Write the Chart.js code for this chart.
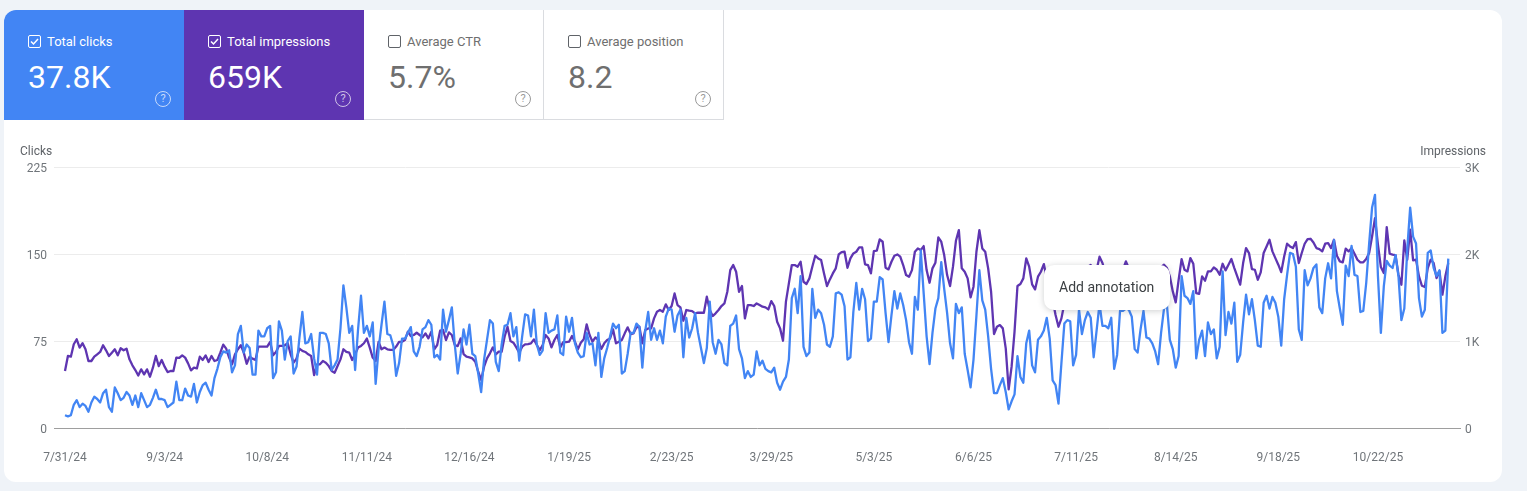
<!DOCTYPE html>
<html lang="en">
    <head>
        <meta charset="UTF-8">
        <title>Search performance</title>
        <script src="https://cdn.jsdelivr.net/npm/chart.js"></script>
        <style>
            body, html {
                margin: 0;
                padding: 0;
                width: 1527px;
                height: 491px;
                overflow: hidden;
                background: #eff3f8;
                font-family: Roboto, sans-serif;
            }
            #card {
                position: absolute;
                left: 4px;
                top: 10px;
                width: 1498px;
                height: 472px;
                background: #fff;
                border-radius: 12px;
                overflow: hidden;
            }
            .tile {
                position: absolute;
                top: 0;
                width: 180px;
                height: 110px;
                box-sizing: border-box;
            }
            .tile.off {
                border-right: 1px solid #dadce0;
                border-bottom: 1px solid #dadce0;
                color: #6f6f6f;
            }
            .tile.on {
                color: #fff;
            }
            .tile .name {
                position: absolute;
                left: 43px;
                top: 24px;
                font-size: 13px;
                line-height: 16px;
            }
            .tile .num {
                position: absolute;
                left: 24px;
                top: 48px;
                font-size: 32px;
                line-height: 38px;
            }
            .tile svg {
                position: absolute;
                left: 24px;
                top: 25px;
            }
            .tile .help {
                position: absolute;
                left: 151px;
                top: 81px;
                width: 14px;
                height: 14px;
                border: 1.5px solid currentColor;
                border-radius: 50%;
                font-size: 11px;
                line-height: 14px;
                text-align: center;
                opacity: .7;
            }
            #chartBox {
                position: absolute;
                left: 0;
                top: 0;
            }
            .axisTitle {
                position: absolute;
                top: 144px;
                font-size: 12px;
                line-height: 14px;
                color: #5f6368;
            }
            #note {
                position: absolute;
                left: 1044px;
                top: 265px;
                width: 126px;
                height: 45px;
                background: #fff;
                border-radius: 10px;
                box-shadow: 0 1px 6px rgba(60,64,67,.25);
                font-size: 14px;
                line-height: 45px;
                color: #3c4043;
                text-indent: 15px;
            }
        </style>
    </head>
    <body>
        <div id="card">
            <div class="tile on" style="left:0;background:#4285f4">
                <svg width="13" height="13"><rect x=".5" y=".5" width="12" height="12" rx="1.5" fill="none" stroke="#fff"/><path d="M3 6.5l2.5 2.5 4.5-5" fill="none" stroke="#fff" stroke-width="1.5"/></svg>
                <div class="name">Total clicks</div><div class="num">37.8K</div><div class="help">?</div>
            </div>
            <div class="tile on" style="left:180px;background:#5e35b1">
                <svg width="13" height="13"><rect x=".5" y=".5" width="12" height="12" rx="1.5" fill="none" stroke="#fff"/><path d="M3 6.5l2.5 2.5 4.5-5" fill="none" stroke="#fff" stroke-width="1.5"/></svg>
                <div class="name">Total impressions</div><div class="num">659K</div><div class="help">?</div>
            </div>
            <div class="tile off" style="left:360px">
                <svg width="13" height="13"><rect x=".5" y=".5" width="12" height="12" rx="1.5" fill="none" stroke="#5f6368"/></svg>
                <div class="name">Average CTR</div><div class="num">5.7%</div><div class="help">?</div>
            </div>
            <div class="tile off" style="left:540px">
                <svg width="13" height="13"><rect x=".5" y=".5" width="12" height="12" rx="1.5" fill="none" stroke="#5f6368"/></svg>
                <div class="name">Average position</div><div class="num">8.2</div><div class="help">?</div>
            </div>
        </div>
        <canvas id="chartBox" width="1527" height="491"></canvas>
        <div class="axisTitle" style="left:20px">Clicks</div>
        <div class="axisTitle" style="right:41px">Impressions</div>
        <div id="note">Add annotation</div>

        <script>
            const tickDays = [0, 34, 69, 103, 138, 172, 207, 241, 276, 310, 345, 379, 414, 448];
            const tickLabels = ['7/31/24', '9/3/24', '10/8/24', '11/11/24', '12/16/24', '1/19/25', '2/23/25', '3/29/25', '5/3/25', '6/6/25', '7/11/25', '8/14/25', '9/18/25', '10/22/25'];
            const clickTicks = [0, 75, 150, 225];
            const impressionTicks = { 0: '0', 1000: '1K', 2000: '2K', 3000: '3K' };

            // one value per day
            const clicks = [
                11,10,11,20,24,18,21,19,14,22,27,25,22,30,33,18,14,35,30,24,26,31,28,20,28,18,30,24,18,20,
                26,33,25,25,24,18,20,22,40,24,24,34,28,27,38,22,31,37,39,33,28,43,51,61,66,65,67,48,54,81,
                88,65,72,69,46,46,84,79,79,86,88,43,48,92,84,59,75,79,47,53,78,100,73,74,81,60,46,82,82,81,
                73,50,54,59,86,123,104,82,88,50,85,114,82,88,79,91,38,68,89,109,81,80,71,45,56,
                77,77,82,87,66,62,70,85,87,93,89,61,63,59,102,83,93,104,72,47,64,85,72,89,64,62,47,31,59,76,
                93,90,57,49,72,88,89,99,79,87,58,79,98,97,79,102,72,63,67,99,82,84,85,97,65,63,96,83,95,73,
                65,61,62,82,72,73,54,82,44,60,69,79,90,86,89,47,49,64,82,82,90,87,52,84,100,76,86,76,84,73,
                96,103,102,83,97,102,61,95,78,86,99,82,69,56,69,109,74,64,76,72,56,54,88,90,97,68,60,43,49,44,
                46,66,54,58,51,49,48,52,39,33,40,44,59,112,120,99,131,70,62,65,120,95,102,99,89,72,70,79,116,117,
                115,105,59,61,100,125,102,120,111,75,77,109,109,130,128,99,74,97,118,103,116,106,93,74,64,113,102,153,116,79,
                55,82,103,112,143,120,99,73,60,107,99,104,64,50,35,59,97,136,110,102,79,51,30,30,37,43,31,16,23,29,
                62,44,39,73,84,54,48,76,79,84,95,77,41,37,21,56,90,93,92,54,63,102,81,93,100,95,61,84,107,
                88,88,86,95,51,63,101,101,103,102,96,68,65,85,101,78,77,73,66,55,82,103,106,76,68,52,62,131,114,112,107,
                118,60,76,84,62,91,81,85,60,70,135,80,100,90,108,57,63,91,115,98,111,93,71,70,108,114,103,113,108,96,
                71,111,132,151,150,139,85,76,136,123,129,138,141,104,99,129,142,129,162,118,103,89,140,131,157,132,131,100,101,125,
                159,190,201,131,82,122,144,140,138,149,131,93,103,154,190,165,159,112,96,102,151,153,138,131,136,82,84,146
            ];
            const impressions = [
                655,828,820,963,1020,924,974,905,770,770,820,847,874,951,893,828,866,905,835,916,893,912,789,720,666,604,674,616,674,589,
                693,828,712,782,705,643,655,655,809,805,835,809,743,662,693,685,820,782,835,758,828,770,782,866,959,912,809,732,847,905,
                951,866,739,820,797,782,936,936,936,936,989,835,874,943,943,951,974,847,751,797,912,886,874,847,828,608,732,732,770,751,
                712,655,635,712,789,905,874,866,782,847,924,943,974,1028,924,809,770,989,905,924,905,897,897,936,989,
                992,1011,1107,1057,1069,1095,1069,1042,1088,1030,1107,904,954,1118,1126,1011,1099,1069,954,942,1030,850,820,812,800,762,647,552,705,800,
                858,927,846,877,877,1049,1164,1000,980,927,866,935,961,965,973,1019,954,896,954,1069,1030,927,1011,1069,927,988,988,992,1057,992,
                904,980,1019,1191,1069,992,1042,1011,908,973,1011,1030,1134,973,992,1011,1088,1157,1080,1088,1157,1164,973,1126,1145,1145,1260,1337,1356,1337,
                1421,1356,1402,1547,1413,1386,1233,1356,1348,1344,1318,1325,1325,1325,1509,1356,1287,1318,1356,1402,1432,1566,1815,1873,1796,1566,1632,1260,1413,1413,
                1402,1432,1413,1394,1386,1363,1459,1402,1222,1145,1003,1452,1662,1873,1873,1854,1911,1681,1655,1720,1854,1980,1949,1930,1777,1632,1708,1777,1835,1995,
                2022,2026,1842,1949,2007,2026,2076,2076,1881,1873,1777,2034,2038,2168,2141,1842,1823,1911,1980,1995,1969,1873,1758,1739,1815,2026,2064,2045,2091,1815,
                1670,1835,1900,2191,2141,1988,1758,1632,1854,2152,2275,1835,1796,1720,1501,1624,2026,2275,2064,2026,1835,1566,1080,1164,1183,1145,915,444,705,1107,
                1632,1655,1720,1949,1854,1651,1593,1739,1796,1884,1720,1624,1471,1298,1164,1260,1432,1566,1662,1624,1700,1739,1815,1681,1854,1873,1720,1815,1969,
                1896,1781,1743,1800,1838,1762,1704,1819,1915,1838,1781,1743,1704,1762,1800,1743,1704,1743,1781,1800,1850,1877,1838,1743,1570,1444,1704,
                1942,1819,1800,1953,1888,1551,1543,1743,1693,1800,1800,1846,1819,1762,1888,1812,1877,1942,1838,1743,1647,1896,2068,2011,1827,1819,1704,1789,2011,2087,
                2164,2030,1953,1877,1792,1972,2118,2087,2068,2137,1896,2011,2118,2172,2175,2133,2068,2057,2030,2118,2126,2068,2164,1980,1915,1904,2061,2030,2068,2003,
                1934,1904,1904,1942,2011,2202,2413,2107,1850,1781,2309,2003,1992,1988,1762,1647,2156,1934,2279,1926,1934,1743,1635,1620,1838,1934,1896,1724,1800,1532,1743,1896
            ];

            const tickFont = { family: 'Roboto', size: 12 };

            new Chart(document.getElementById('chartBox'), {
                type: 'line',
                data: {
                    datasets: [
                        {
                            label: 'Clicks',
                            data: clicks.map((v, i) => ({ x: i, y: v })),
                            yAxisID: 'y',
                            borderColor: '#4285f4',
                            borderWidth: 2.3,
                            borderJoinStyle: 'round',
                            pointRadius: 0,
                            tension: 0
                        },
                        {
                            label: 'Impressions',
                            data: impressions.map((v, i) => ({ x: i, y: v })),
                            yAxisID: 'y2',
                            borderColor: '#5e35b1',
                            borderWidth: 2.3,
                            borderJoinStyle: 'round',
                            pointRadius: 0,
                            tension: 0
                        }
                    ]
                },
                options: {
                    responsive: false,
                    animation: false,
                    layout: { padding: { top: 167 } },
                    plugins: { legend: { display: false }, tooltip: { enabled: false } },
                    scales: {
                        x: {
                            type: 'linear',
                            min: -3.75,
                            max: 476,
                            grid: { display: false },
                            border: { color: '#9e9e9e' },
                            afterBuildTicks: axis => { axis.ticks = tickDays.map(v => ({ value: v })); },
                            afterFit: axis => { axis.height = 63; },
                            ticks: {
                                autoSkip: false,
                                maxRotation: 0,
                                padding: 15,
                                color: '#70757a',
                                font: tickFont,
                                callback: v => tickLabels[tickDays.indexOf(v)]
                            }
                        },
                        y: {
                            position: 'left',
                            min: 0,
                            max: 225,
                            grid: { color: '#ececec', drawTicks: false },
                            border: { display: false },
                            afterBuildTicks: axis => { axis.ticks = clickTicks.map(v => ({ value: v })); },
                            afterFit: axis => { axis.width = 54; },
                            ticks: { padding: 7, labelOffset: 2, color: '#70757a', font: tickFont }
                        },
                        y2: {
                            position: 'right',
                            min: 0,
                            max: 3000,
                            grid: { display: false, drawTicks: false },
                            border: { display: false },
                            afterBuildTicks: axis => {
                                axis.ticks = Object.keys(impressionTicks).map(v => ({ value: Number(v) }));
                            },
                            afterFit: axis => { axis.width = 67; },
                            ticks: {
                                padding: 5,
                                labelOffset: 2,
                                color: '#70757a',
                                font: tickFont,
                                callback: v => impressionTicks[v]
                            }
                        }
                    }
                }
            });
        </script>
    </body>
</html>
